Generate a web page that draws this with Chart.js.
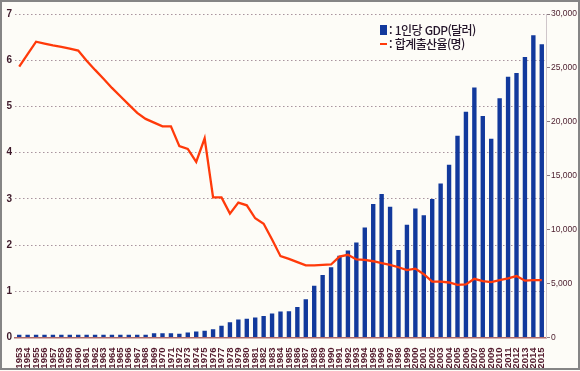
<!DOCTYPE html>
<html lang="ko">
<head>
<meta charset="utf-8">
<title>1인당 GDP와 합계출산율</title>
<script src="https://cdn.jsdelivr.net/npm/chart.js@4/dist/chart.umd.min.js"></script>
<style>
  html, body { margin: 0; padding: 0; background: #fdfcf7; }
  #wrap { position: relative; width: 580px; height: 371px; }
  #frame { position: absolute; left: 0; top: 0; width: 580px; height: 370px; box-sizing: border-box; border: 2px solid #858585; pointer-events: none; }
  #legend { position: absolute; left: 380px; top: 23px; font-family: "Noto Sans CJK KR", sans-serif; font-size: 12px; font-weight: 500; color: #24152a; letter-spacing: -0.6px; line-height: 14px; }
  #legend .row { display: flex; align-items: center; height: 14px; }
  #legend .sw-bar { width: 7px; height: 10px; background: #12399c; margin-right: 2px; }
  #legend .sw-line { width: 7px; height: 2px; background: #ff3a0a; margin-right: 2px; }
</style>
</head>
<body>
<div id="wrap">
  <canvas id="chart" width="580" height="371"></canvas>
  <div id="legend">
    <div class="row"><span class="sw-bar"></span><span>: 1인당 GDP(달러)</span></div>
    <div class="row"><span class="sw-line"></span><span>: 합계출산율(명)</span></div>
  </div>
  <div id="frame"></div>
</div>
<script>
// ---- data ----
const years = ['1953','1954','1955','1956','1957','1958','1959','1960','1961','1962',
  '1963','1964','1965','1966','1967','1968','1969','1970','1971','1972',
  '1973','1974','1975','1976','1977','1978','1979','1980','1981','1982',
  '1983','1984','1985','1986','1987','1988','1989','1990','1991','1992',
  '1993','1994','1995','1996','1997','1998','1999','2000','2001','2002',
  '2003','2004','2005','2006','2007','2008','2009','2010','2011','2012',
  '2013','2014','2015'];

// 1인당 GDP (달러)
const gdpPerCapita = [250, 250, 250, 250, 250, 250, 250, 250, 250, 250,
  250, 250, 250, 250, 250, 250, 400, 400, 400, 340,
  460, 560, 630, 770, 1080, 1420, 1670, 1730, 1850, 2000,
  2220, 2400, 2440, 2840, 3550, 4790, 5800, 6510, 7590, 8060,
  8800, 10190, 12380, 13300, 12130, 8120, 10460, 11970, 11330, 12840,
  14290, 16020, 18700, 20930, 23180, 20530, 18430, 22190, 24170, 24540,
  26020, 28030, 27200];

// 합계출산율 (명)
const fertilityRate = [5.86, 6.13, 6.40, 6.36, 6.32, 6.29, 6.25, 6.21, 5.99, 5.79,
  5.60, 5.40, 5.22, 5.04, 4.86, 4.73, 4.65, 4.57, 4.57, 4.14,
  4.08, 3.80, 4.31, 3.03, 3.03, 2.68, 2.92, 2.86, 2.58, 2.46,
  2.12, 1.76, 1.70, 1.63, 1.56, 1.56, 1.57, 1.58, 1.75, 1.79,
  1.69, 1.68, 1.65, 1.61, 1.57, 1.52, 1.46, 1.49, 1.37, 1.21,
  1.21, 1.19, 1.14, 1.15, 1.27, 1.22, 1.20, 1.24, 1.28, 1.33,
  1.23, 1.24, 1.24];

const leftTicks = { min: 0, max: 7, step: 1 };
const rightTicks = { min: 0, max: 30000, step: 5000 };

// ---- chart ----
Chart.defaults.font.family = '"Liberation Sans", Arial, sans-serif';
Chart.defaults.color = '#4a1c2c';

const ctx = document.getElementById('chart').getContext('2d');

new Chart(ctx, {
  data: {
    labels: years,
    datasets: [
      {
        type: 'line',
        label: '합계출산율(명)',
        data: fertilityRate,
        yAxisID: 'y',
        borderColor: '#ff3a0a',
        borderWidth: 2.3,
        pointRadius: 0,
        tension: 0,
        order: 0
      },
      {
        type: 'bar',
        label: '1인당 GDP(달러)',
        data: gdpPerCapita,
        yAxisID: 'y1',
        backgroundColor: '#12399c',
        barPercentage: 0.52,
        categoryPercentage: 1,
        order: 1
      }
    ]
  },
  options: {
    responsive: false,
    animation: false,
    layout: { padding: { top: 14, left: 0, right: 0, bottom: 0 } },
    plugins: { legend: { display: false }, tooltip: { enabled: false } },
    scales: {
      x: {
        grid: { display: false },
        border: { display: true, color: '#b06a6a', width: 1.5 },
        ticks: {
          autoSkip: false,
          minRotation: 90,
          maxRotation: 90,
          padding: 2,
          font: { size: 9.5, weight: 'bold' },
          color: '#521a2c'
        },
        afterFit: (scale) => { scale.height = 33.5; }
      },
      y: {
        position: 'left',
        min: leftTicks.min,
        max: leftTicks.max,
        ticks: { stepSize: leftTicks.step, padding: 3, font: { size: 10, weight: 'bold' }, color: '#3e1a2a' },
        grid: { color: '#a8949e', lineWidth: 1, drawTicks: false },
        border: { display: false, dash: [1.5, 2.5] },
        afterFit: (scale) => { scale.width = 15; }
      },
      y1: {
        position: 'right',
        min: rightTicks.min,
        max: rightTicks.max,
        ticks: {
          stepSize: rightTicks.step,
          padding: 1,
          font: { size: 8.5 },
          color: '#4a1c2c',
          callback: (v) => v.toLocaleString('en-US')
        },
        grid: { drawOnChartArea: false, drawTicks: true, tickLength: 4, color: '#8a7a80' },
        border: { display: true, color: '#cfc6ca', width: 1 },
        afterFit: (scale) => { scale.width = 34; }
      }
    }
  }
});
</script>
</body>
</html>
